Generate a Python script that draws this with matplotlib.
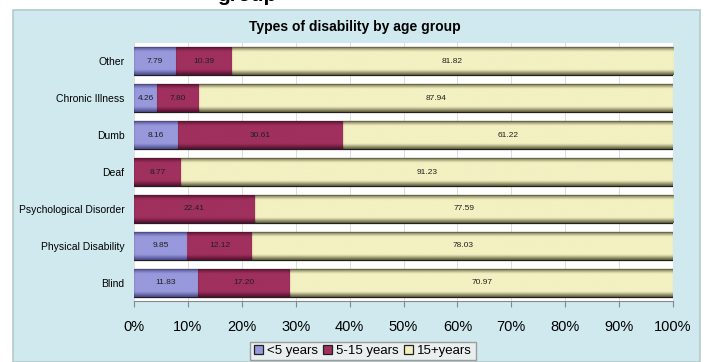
import numpy as np
import matplotlib
matplotlib.use("Agg")
import matplotlib.pyplot as plt
from matplotlib.patches import Rectangle
from matplotlib.colors import LinearSegmentedColormap

plt.rcParams['font.family'] = ['Liberation Sans Narrow', 'Liberation Sans', 'DejaVu Sans']

categories = ["Other", "Chronic Illness", "Dumb", "Deaf",
              "Psychological Disorder", "Physical Disability", "Blind"]
under5 = [7.79, 4.26, 8.16, 0.0, 0.0, 9.85, 11.83]
age5_15 = [10.39, 7.80, 30.61, 8.77, 22.41, 12.12, 17.20]
over15 = [81.82, 87.94, 61.22, 91.23, 77.59, 78.03, 70.97]
series_names = ["<5 years", "5-15 years", "15+years"]
xtick_vals = [0, 10, 20, 30, 40, 50, 60, 70, 80, 90, 100]
xtick_labels = ["0%", "10%", "20%", "30%", "40%", "50%", "60%", "70%", "80%", "90%", "100%"]

colors = ["#9898dc", "#a0305e", "#f3f1c2"]
edge_dark = ["#3e3e80", "#4a0c28", "#4a4a28"]

fig = plt.figure(figsize=(7.11, 3.62), dpi=100)
fig.patch.set_facecolor("white")

# panel background
panel = Rectangle((13/711, 0), (700-13)/711, 1 - 10/362, transform=fig.transFigure,
                  facecolor="#cfe9ee", edgecolor="#b5c9c9", linewidth=1.2, zorder=-5)
fig.patches.append(panel)

# cut-off big title (only its lower part is visible, as in the reference)
fig.text(247/711, 1 + 5/362, "group", ha="center", va="center", fontsize=15,
         fontweight="bold", family=["Liberation Sans", "DejaVu Sans"])

ax = fig.add_axes([134/711, 1 - 301/362, (673-134)/711, (301-43)/362])
ax.set_zorder(2)
ax.set_facecolor("white")

y = np.arange(len(categories))
left = np.zeros(len(categories))
bar_h = 0.76
all_series = [under5, age5_15, over15]
for vals, name, c, ec in zip(all_series, series_names, colors, edge_dark):
    bars = ax.barh(y, vals, left=left, height=bar_h, color=c, edgecolor="#202020",
                   linewidth=0.9, label=name, zorder=3)
    cmap = LinearSegmentedColormap.from_list(
        "g", [(0, ec), (0.18, c), (0.5, c), (0.82, c), (1, ec)])
    grad = np.linspace(0, 1, 64).reshape(-1, 1)
    for b, v, l, yy in zip(bars, vals, left, y):
        if v <= 0:
            continue
        im = ax.imshow(grad, cmap=cmap, aspect="auto", alpha=0.9,
                       extent=(l, l + v, yy + bar_h/2, yy - bar_h/2), zorder=3.5,
                       interpolation="bicubic")
        im.set_clip_path(b)
        ax.text(l + v/2, yy, f"{v:.2f}", ha="center", va="center", fontsize=6,
                color="#202020", zorder=5)
    left = left + np.array(vals)

ax.set_xlim(0, 100)
ax.set_ylim(len(categories) - 0.5, -0.5)
ax.set_yticks(y)
ax.set_yticklabels(categories, fontsize=7.5)
ax.set_xticks(xtick_vals)
ax.set_xticklabels(xtick_labels, fontsize=10.5, family=["Liberation Sans", "DejaVu Sans"])
ax.tick_params(axis="y", length=0, pad=7)
ax.tick_params(axis="x", length=4, color="#888888", pad=10)
ax.grid(axis="x", color="#d8d8d8", linewidth=0.6, zorder=0)
for s in ["top", "right", "left"]:
    ax.spines[s].set_visible(False)
ax.spines["bottom"].set_color("#888888")

fig.text(355/711, 1 - 27/362, "Types of disability by age group", ha="center",
         va="center", fontsize=10, fontweight="bold")

handles, labels = ax.get_legend_handles_labels()
leg = fig.legend(handles, labels, loc="center", bbox_to_anchor=(363/711, 1 - 351/362),
                 ncol=3, frameon=True, fancybox=False, handlelength=0.7,
                 handleheight=0.7, handletextpad=0.3, columnspacing=0.4,
                 borderpad=0.25, prop={"family": ["Liberation Sans", "DejaVu Sans"], "size": 9.5})
leg.get_frame().set_facecolor("#f0f0f0")
leg.get_frame().set_edgecolor("#8a8a8a")

fig.savefig("out.png", dpi=100)
